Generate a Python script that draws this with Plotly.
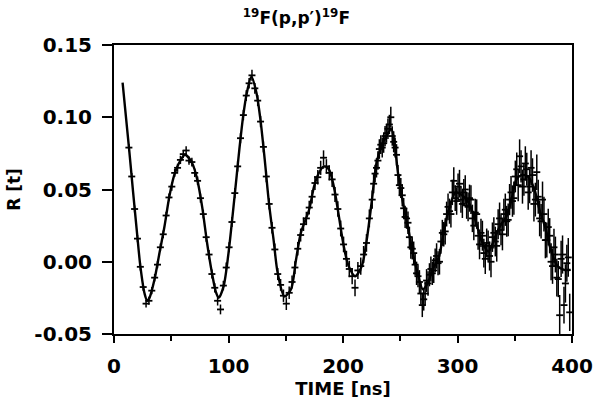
import plotly.graph_objects as go

# ---- data ----
t_data = [13, 15.5, 18, 20.5, 23, 25.5, 28, 30.5, 33, 35.5, 38, 40.5, 43, 45.5, 48, 50.5, 53, 55.5, 58, 60.5,
          63, 65.5, 68, 70.5, 73, 75.5, 78, 80.5, 83, 85.5, 88, 90.5, 93, 95.5, 98, 100.5, 103, 105.5, 108, 110.5,
          113, 115.5, 118, 120.5, 123, 125.5, 128, 130.5, 133, 135.5, 138, 140.5, 143, 145.5, 148, 150.5, 153, 155.5,
          158, 160.5, 163, 165.5, 168, 170.5, 173, 175.5, 178, 180.5, 183, 185.5, 188, 190.5, 193, 195.5, 198, 200.5,
          203, 205.5, 208, 210.5, 213, 215.5, 218, 220.5, 223, 225.5, 228, 230.5, 233, 235.5, 238, 240.5, 243, 245.5,
          248, 250.5, 253, 255.5, 258, 260.5, 263, 265.5, 268, 270.5, 273, 275.5, 278, 280.5, 283, 285.5, 288, 290.5,
          293, 295.5, 298, 300.5, 303, 305.5, 308, 310.5, 313, 315.5, 318, 320.5, 323, 325.5, 328, 330.5, 333, 335.5,
          338, 340.5, 343, 345.5, 348, 350.5, 353, 355.5, 358, 360.5, 363, 365.5, 368, 370.5, 373, 375.5, 378, 380.5,
          383, 385.5, 388, 390.5, 393, 395.5, 398]

r_data = [0.0790, 0.0590, 0.0365, 0.0160, -0.0035, -0.0175, -0.0290, -0.0270, -0.0200, -0.0110, -0.0020, 0.0100,
          0.0190, 0.0320, 0.0445, 0.0520, 0.0615, 0.0650, 0.0705, 0.0745, 0.0770, 0.0700, 0.0690, 0.0615, 0.0560,
          0.0440, 0.0330, 0.0170, 0.0050, -0.0085, -0.0180, -0.0270, -0.0330, -0.0165, -0.0040, 0.0100, 0.0275,
          0.0475, 0.0660, 0.0855, 0.1015, 0.1150, 0.1235, 0.1290, 0.1200, 0.1115, 0.0970, 0.0795, 0.0590, 0.0400,
          0.0235, 0.0085, -0.0085, -0.0160, -0.0235, -0.0290, -0.0215, -0.0140, -0.0040, 0.0090, 0.0185, 0.0260,
          0.0300, 0.0375, 0.0450, 0.0545, 0.0585, 0.0650, 0.0720, 0.0660, 0.0615, 0.0570, 0.0465, 0.0365, 0.0230,
          0.0120, 0.0020, -0.0050, -0.0100, -0.0180, -0.0060, -0.0030, 0.0050, 0.0130, 0.0300, 0.0430, 0.0610,
          0.0700, 0.0810, 0.0820, 0.0890, 0.0950, 0.0870, 0.0790, 0.0600, 0.0510, 0.0370, 0.0300, 0.0170, 0.0090,
          -0.0020, -0.0100, -0.0220, -0.0260, -0.0130, -0.0090, -0.0080, 0.0010, -0.0010, 0.0140, 0.0190, 0.0330,
          0.0350, 0.0480, 0.0440, 0.0520, 0.0430, 0.0480, 0.0390, 0.0440, 0.0300, 0.0340, 0.0180, 0.0200, 0.0060,
          0.0130, 0.0040, 0.0170, 0.0140, 0.0260, 0.0220, 0.0330, 0.0280, 0.0430, 0.0420, 0.0590, 0.0530, 0.0660,
          0.0570, 0.0640, 0.0520, 0.0600, 0.0430, 0.0450, 0.0280, 0.0330, 0.0150, 0.0180, -0.0030, 0.0050, -0.0120,
          0.0020, -0.0300, -0.0010, -0.0350]

r_err = [0.0025, 0.0025, 0.0024, 0.0025, 0.0026, 0.0025, 0.0026, 0.0027, 0.0025, 0.0026, 0.0025, 0.0026,
         0.0027, 0.0026, 0.0027, 0.0028, 0.0027, 0.0028, 0.0029, 0.0028, 0.0030, 0.0029, 0.0030, 0.0029, 0.0030,
         0.0031, 0.0030, 0.0031, 0.0032, 0.0031, 0.0032, 0.0033, 0.0034, 0.0033, 0.0034, 0.0035, 0.0034, 0.0035,
         0.0036, 0.0035, 0.0036, 0.0037, 0.0036, 0.0038, 0.0037, 0.0038, 0.0039, 0.0038, 0.0040, 0.0039, 0.0040,
         0.0041, 0.0042, 0.0041, 0.0043, 0.0044, 0.0043, 0.0045, 0.0044, 0.0046, 0.0045, 0.0047, 0.0046, 0.0048,
         0.0047, 0.0049, 0.0050, 0.0049, 0.0051, 0.0050, 0.0052, 0.0053, 0.0052, 0.0054, 0.0055, 0.0054, 0.0056,
         0.0057, 0.0056, 0.0058, 0.0059, 0.0060, 0.0059, 0.0061, 0.0062, 0.0063, 0.0062, 0.0064, 0.0065, 0.0066,
         0.0065, 0.0067, 0.0068, 0.0069, 0.0070, 0.0069, 0.0071, 0.0072, 0.0073, 0.0074, 0.0075, 0.0076, 0.0077,
         0.0078, 0.0079, 0.0080, 0.0081, 0.0082, 0.0083, 0.0084, 0.0085, 0.0086, 0.0087, 0.0088, 0.0089, 0.0090,
         0.0091, 0.0092, 0.0093, 0.0094, 0.0095, 0.0096, 0.0097, 0.0098, 0.0099, 0.0100, 0.0101, 0.0102, 0.0103,
         0.0104, 0.0105, 0.0106, 0.0107, 0.0108, 0.0109, 0.0110, 0.0111, 0.0112, 0.0113, 0.0114, 0.0115, 0.0116,
         0.0117, 0.0118, 0.0119, 0.0120, 0.0121, 0.0122, 0.0123, 0.0124, 0.0125, 0.0126, 0.0127, 0.0128, 0.0129,
         0.0130, 0.0131, 0.0132, 0.0133]

# interleaved channels in the dense late part of the spectrum
t_data_late = [226.75, 229.25, 231.75, 234.25, 236.75, 239.25, 241.75, 244.25, 246.75, 249.25, 251.75, 254.25,
               256.75, 259.25, 261.75, 264.25, 266.75, 269.25, 271.75, 274.25, 276.75, 279.25, 281.75, 284.25,
               286.75, 289.25, 291.75, 294.25, 296.75, 299.25, 301.75, 304.25, 306.75, 309.25, 311.75, 314.25,
               316.75, 319.25, 321.75, 324.25, 326.75, 329.25, 331.75, 334.25, 336.75, 339.25, 341.75, 344.25,
               346.75, 349.25, 351.75, 354.25, 356.75, 359.25, 361.75, 364.25, 366.75, 369.25, 371.75, 374.25,
               376.75, 379.25, 381.75, 384.25, 386.75, 389.25, 391.75, 394.25, 396.75]
r_data_late = [0.0540, 0.0650, 0.0780, 0.0790, 0.0870, 0.0920, 0.1000, 0.0830, 0.0740, 0.0530, 0.0460, 0.0310,
               0.0270, 0.0100, 0.0060, -0.0080, -0.0140, -0.0300, -0.0220, -0.0150, -0.0050, -0.0060, 0.0040,
               0.0000, 0.0200, 0.0210, 0.0380, 0.0330, 0.0560, 0.0420, 0.0540, 0.0400, 0.0500, 0.0380, 0.0430,
               0.0250, 0.0330, 0.0120, 0.0180, 0.0020, 0.0110, 0.0000, 0.0200, 0.0110, 0.0300, 0.0190, 0.0360,
               0.0290, 0.0480, 0.0440, 0.0640, 0.0730, 0.0520, 0.0680, 0.0480, 0.0650, 0.0400, 0.0620, 0.0300,
               0.0430, 0.0150, 0.0240, 0.0000, 0.0100, -0.0110, -0.0370, 0.0050, -0.0150, 0.0030]
r_err_late = [0.0066, 0.0067, 0.0068, 0.0069, 0.0070, 0.0071, 0.0072, 0.0073, 0.0074, 0.0075, 0.0076, 0.0077,
              0.0078, 0.0079, 0.0080, 0.0081, 0.0082, 0.0083, 0.0084, 0.0085, 0.0086, 0.0087, 0.0088, 0.0089,
              0.0090, 0.0091, 0.0092, 0.0093, 0.0094, 0.0095, 0.0096, 0.0097, 0.0098, 0.0099, 0.0100, 0.0101,
              0.0102, 0.0103, 0.0104, 0.0105, 0.0106, 0.0107, 0.0108, 0.0109, 0.0110, 0.0111, 0.0112, 0.0113,
              0.0114, 0.0115, 0.0116, 0.0117, 0.0118, 0.0119, 0.0120, 0.0121, 0.0122, 0.0123, 0.0124, 0.0125,
              0.0126, 0.0127, 0.0128, 0.0129, 0.0130, 0.0140, 0.0132, 0.0133, 0.0134]

t_fit = [7.5, 13.2, 16.7, 20.1, 23, 26.7, 29, 31, 35.3, 39.7, 44, 48.3, 52.6, 56.9, 62, 68.4, 72.7, 77, 81.3,
         85.6, 89, 91.4, 95.7, 100, 103.7, 107.2, 109.5, 113, 115.8, 120, 124.4, 127.8, 131.6, 135.3, 139.4, 143,
         148.9, 154.6, 158.9, 163.2, 170.4, 174.7, 179, 183.3, 187.6, 192, 196.3, 200.6, 204.9, 210.6, 216.4,
         220.7, 225, 229.3, 233.6, 237.9, 242.2, 245, 248, 252.3, 256.6, 260.9, 265.3, 269.6, 273.9, 278.2, 283.9,
         288.2, 292.5, 298.3, 304, 309.7, 315.5, 321.3, 327, 331.3, 337, 342.8, 347.2, 351.5, 355.8, 361.5, 367.2,
         371.6, 377.3, 381.6, 387.4, 393.1, 398.9]
r_fit = [0.124, 0.078, 0.048, 0.020, -0.003, -0.022, -0.027, -0.025, -0.0125, 0.006, 0.024, 0.045, 0.060, 0.0685,
         0.074, 0.068, 0.057, 0.038, 0.013, -0.008, -0.021, -0.025, -0.017, 0.006, 0.033, 0.060, 0.078, 0.102,
         0.116, 0.128, 0.117, 0.099, 0.071, 0.041, 0.015, -0.008, -0.024, -0.019, 0.001, 0.020, 0.036, 0.052,
         0.0616, 0.066, 0.064, 0.052, 0.032, 0.011, -0.003, -0.010, -0.003, 0.015, 0.041, 0.0685, 0.080, 0.087,
         0.0917, 0.082, 0.0616, 0.041, 0.0245, 0.006, -0.008, -0.019, -0.015, -0.0056, 0.0037, 0.022, 0.036, 0.048,
         0.046, 0.041, 0.029, 0.014, 0.007, 0.014, 0.0245, 0.0315, 0.043, 0.057, 0.060, 0.059, 0.050, 0.036, 0.022,
         0.008, -0.003, -0.0056, -0.0056]

x_ticks = [0, 100, 200, 300, 400]
y_ticks = [-0.05, 0.00, 0.05, 0.10, 0.15]
y_tick_text = ["-0.05", "0.00", "0.05", "0.10", "0.15"]

FONT = "DejaVu Sans"

fig = go.Figure()
for tx, ry, re in [(t_data, r_data, r_err), (t_data_late, r_data_late, r_err_late)]:
    fig.add_trace(go.Scatter(
        x=tx, y=ry, mode="markers",
        marker=dict(symbol="line-ew", size=5, line=dict(color="black", width=1.8), color="black"),
        error_y=dict(type="data", array=re, visible=True, color="black", thickness=1.5, width=0),
        showlegend=False, cliponaxis=True,
    ))
fig.add_trace(go.Scatter(
    x=t_fit, y=r_fit, mode="lines", line=dict(color="black", width=2.4, shape="spline", smoothing=0.8),
    showlegend=False,
))

fig.update_layout(
    width=605, height=403,
    margin=dict(l=114, r=27, t=45, b=69),
    paper_bgcolor="white", plot_bgcolor="white",
    font=dict(family=FONT, color="black", size=18, weight="bold"),
    title=dict(text="<sup>19</sup>F(p,p′)<sup>19</sup>F", x=0.49, xanchor="center", y=0.955, yanchor="middle",
               font=dict(family=FONT, size=17, color="black", weight="bold")),
)
fig.update_xaxes(
    range=[0, 400], tickvals=x_ticks, ticks="outside", ticklen=7, tickwidth=2, tickcolor="black",
    minor=dict(dtick=50, tick0=0, ticks="outside", ticklen=5, tickwidth=2, tickcolor="black"),
    showline=True, linewidth=2, linecolor="black", mirror=True, showgrid=False, zeroline=False,
    tickfont=dict(family=FONT, size=20, weight="bold"), ticklabelstandoff=6,
    title=dict(text="TIME [ns]", font=dict(family=FONT, size=18, weight="bold"), standoff=0),
)
fig.update_yaxes(
    range=[-0.05, 0.15], tickvals=y_ticks, ticktext=y_tick_text, ticks="outside", ticklen=10, tickwidth=2,
    tickcolor="black", showline=True, linewidth=2, linecolor="black", mirror=True, showgrid=False,
    zeroline=False, tickfont=dict(family=FONT, size=20, weight="bold"), ticklabelstandoff=6,
    title=dict(text="R [t]", font=dict(family=FONT, size=17, weight="bold"), standoff=9),
)

fig.write_html("out.html")
